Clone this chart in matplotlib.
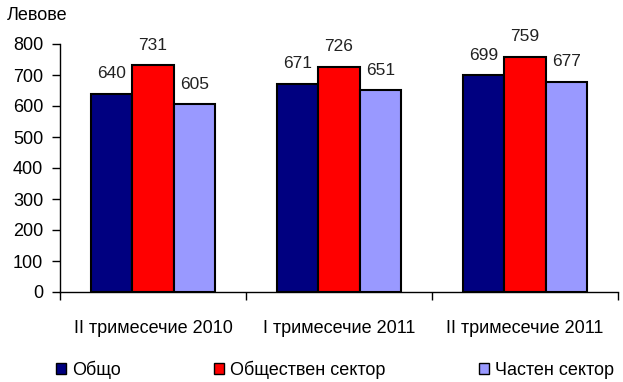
import matplotlib
matplotlib.use("Agg")
import matplotlib.pyplot as plt
from matplotlib.patches import Patch
import numpy as np

plt.rcParams['font.family'] = ['Liberation Sans', 'DejaVu Sans']

categories = ["II тримесечие 2010", "I тримесечие 2011", "II тримесечие 2011"]
series_names = ["Общо", "Обществен сектор", "Частен сектор"]
total = [640, 671, 699]
public = [731, 726, 759]
private = [605, 651, 677]
colors = ["#000080", "#FF0000", "#9999FF"]

W, H = 623, 382
fig = plt.figure(figsize=(W / 100, H / 100), dpi=100)
ax = fig.add_axes([60 / W, (H - 292) / H, (618 - 60) / W, (292 - 44) / H])

x = np.arange(len(categories))
bw = 0.223
for i, (vals, c) in enumerate(zip([total, public, private], colors)):
    pos = x + (i - 1) * bw
    bars = ax.bar(pos, vals, width=bw, color=c, edgecolor="black", linewidth=1.5, zorder=3)
    for b, v in zip(bars, vals):
        ax.annotate(str(v), (b.get_x() + b.get_width() / 2, v), xytext=(0, 14.5),
                    textcoords="offset points", ha="center", va="center",
                    fontsize=12.5, color="#222222")

ax.set_xlim(-0.5, 2.5)
ax.set_ylim(0, 800)
ax.set_yticks(range(0, 801, 100))
ax.set_xticks([-0.5, 0.5, 1.5, 2.5])
ax.set_xticklabels([])
ax.set_xticks(x, minor=True)
ax.set_xticklabels(categories, minor=True, fontsize=13)
ax.tick_params(axis="x", which="minor", length=0, pad=20)
ax.tick_params(axis="x", which="major", length=6, width=1, direction="out")
ax.tick_params(axis="y", length=6, width=1, direction="out", labelsize=13, pad=6)
for s in ["top", "right"]:
    ax.spines[s].set_visible(False)
for s in ["left", "bottom"]:
    ax.spines[s].set_linewidth(1)

fig.text(7 / W, 1 - 15 / H, "Левове", fontsize=13, ha="left", va="center")

handles = [Patch(facecolor=c, edgecolor="black", linewidth=1) for c in colors]
fig.legend(handles, series_names, loc="center", bbox_to_anchor=(56 / W, 1 - 380 / H, (614 - 56) / W, 20 / H),
           mode="expand", ncol=3, frameon=False, fontsize=13, handlelength=0.55, handleheight=0.55,
           handletextpad=0.35, borderaxespad=0, borderpad=0)

fig.savefig("out.png", dpi=100)
